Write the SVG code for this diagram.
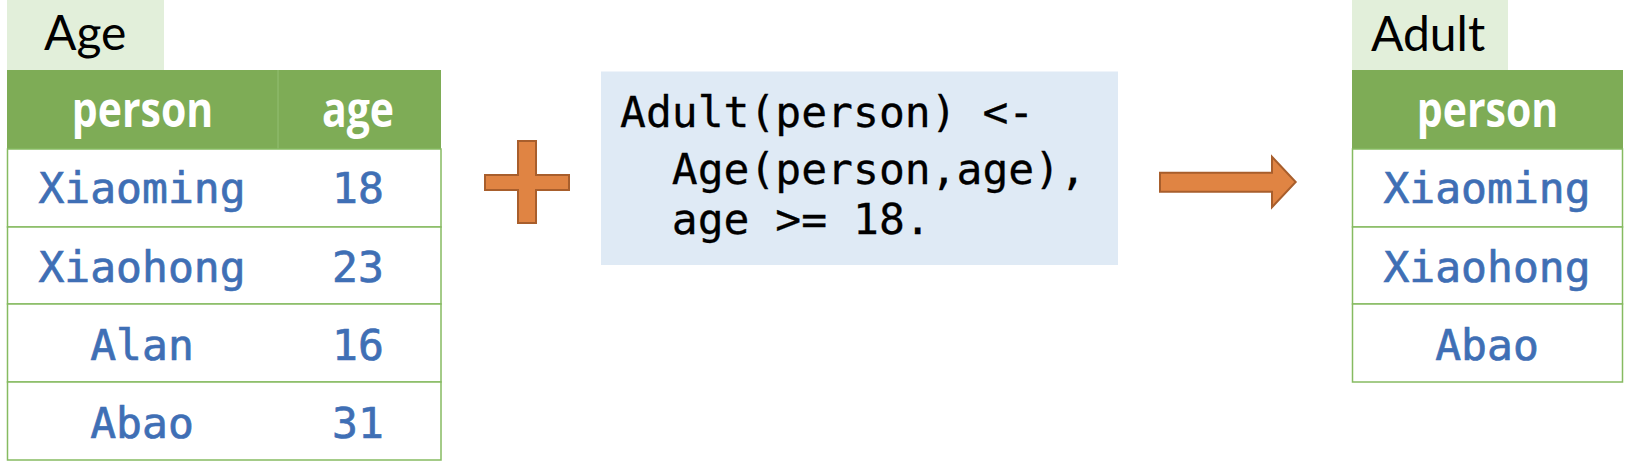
<svg xmlns="http://www.w3.org/2000/svg" width="1638" height="468" viewBox="0 0 1638 468">
<style>
.lbl{fill:#E2EFDA}
.hdr{fill:#7EAC56}
.cell{fill:#FFFFFF;stroke:#86BB61;stroke-width:1.5}
.div{stroke:#93BF72;stroke-width:1}
.ttl{font-family:Lato,"Open Sans",sans-serif;font-size:48px;fill:#000}
.hd{font-family:"Open Sans","Noto Sans",sans-serif;font-weight:bold;font-size:41px;fill:#fff;text-anchor:middle}
.val{font-family:"DejaVu Sans Mono",monospace;font-size:43px;fill:#3F6FB5;stroke:#3F6FB5;stroke-width:0.7;text-anchor:middle}
.code{font-family:"DejaVu Sans Mono",monospace;font-size:43px;fill:#000;stroke:#000;stroke-width:0.3}
.org{fill:#E08443;stroke:#A85E2C;stroke-width:2}
</style>
<g id="age-table">
<rect class="lbl" x="7" y="0" width="157" height="70"/>
<text class="ttl" x="44" y="50">Age</text>
<rect class="hdr" x="7" y="70" width="434" height="79"/>
<line class="div" x1="278" y1="70" x2="278" y2="149"/>
<text class="hd" transform="translate(142.5,126.7) scale(1,1.18)">person</text>
<text class="hd" transform="translate(358,126.7) scale(1,1.18)">age</text>
<rect class="cell" x="7.5" y="149" width="433.5" height="78"/>
<rect class="cell" x="7.5" y="227" width="433.5" height="77"/>
<rect class="cell" x="7.5" y="304" width="433.5" height="78"/>
<rect class="cell" x="7.5" y="382" width="433.5" height="78"/>
<text class="val" x="142" y="203">Xiaoming</text>
<text class="val" x="358" y="203">18</text>
<text class="val" x="142" y="281.5">Xiaohong</text>
<text class="val" x="358" y="281.5">23</text>
<text class="val" x="142" y="359.5">Alan</text>
<text class="val" x="358" y="359.5">16</text>
<text class="val" x="142" y="437.5">Abao</text>
<text class="val" x="358" y="437.5">31</text>
</g>
<g id="plus">
<polygon class="org" points="518,141 536,141 536,175 569,175 569,190 536,190 536,223 518,223 518,190 485,190 485,175 518,175"/>
</g>
<g id="rule">
<rect x="601" y="71.5" width="517" height="193.5" fill="#DFEAF5"/>
<text class="code" x="620" y="126.7" xml:space="preserve">Adult(person) &lt;-</text>
<text class="code" x="620" y="184" xml:space="preserve">  Age(person,age),</text>
<text class="code" x="620" y="234" xml:space="preserve">  age &gt;= 18.</text>
</g>
<g id="connectors">
<polygon class="org" points="1160,172.7 1272,172.7 1272,156.7 1295.7,182 1272,207.3 1272,191.7 1160,191.7"/>
</g>
<g id="adult-table">
<rect class="lbl" x="1352" y="0" width="156" height="70"/>
<text class="ttl" x="1371" y="51">Adult</text>
<rect class="hdr" x="1352" y="70" width="271" height="79"/>
<text class="hd" transform="translate(1487.5,126.7) scale(1,1.18)">person</text>
<rect class="cell" x="1352.5" y="149" width="270" height="78"/>
<rect class="cell" x="1352.5" y="227" width="270" height="77"/>
<rect class="cell" x="1352.5" y="304" width="270" height="78"/>
<text class="val" x="1487" y="203">Xiaoming</text>
<text class="val" x="1487" y="281.5">Xiaohong</text>
<text class="val" x="1487" y="359.5">Abao</text>
</g>
</svg>
